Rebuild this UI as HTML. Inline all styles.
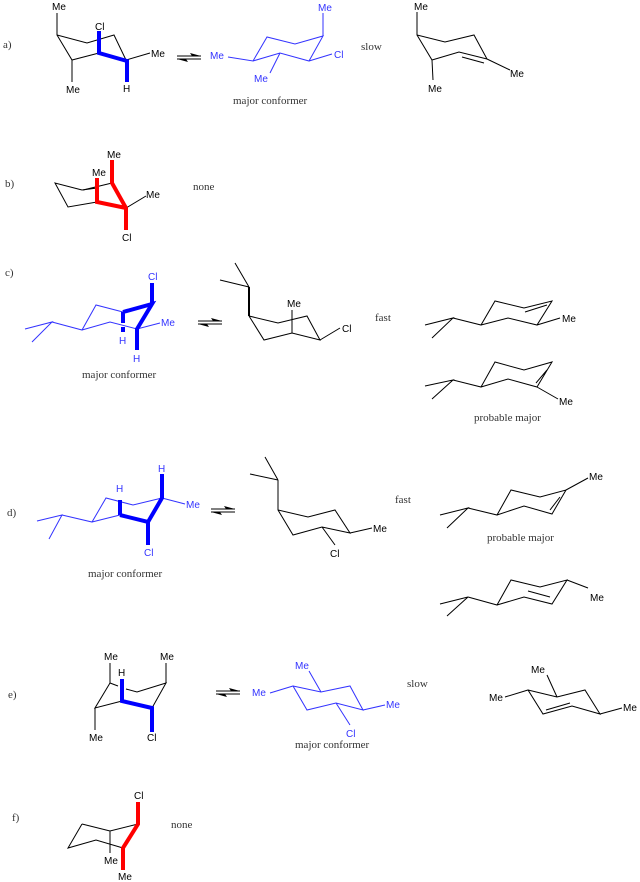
<!DOCTYPE html>
<html><head><meta charset="utf-8"><style>
html,body{margin:0;padding:0;background:#fff;}
svg{display:block;}
.s{font-family:"Liberation Sans",sans-serif;font-size:10px;}
.t{font-family:"Liberation Serif",serif;font-size:11px;fill:#333;}
.k{stroke:#000;stroke-width:1;fill:none;}
.b{stroke:#3333ff;stroke-width:1;fill:none;}
.B{stroke:#0000ff;stroke-width:4;fill:none;}
.R{stroke:#ff0000;stroke-width:4;fill:none;}
</style></head><body>
<svg width="640" height="882" viewBox="0 0 640 882" xmlns="http://www.w3.org/2000/svg">
<defs>
<g id="eq">
<line x1="0" y1="-1" x2="24" y2="-1" stroke="#000" stroke-width="1"/>
<polygon points="24,-1 13,-4 15,-1" fill="#000"/>
<line x1="0" y1="2" x2="24" y2="2" stroke="#000" stroke-width="1"/>
<polygon points="0,2 11,5 9,2" fill="#000"/>
</g>
</defs>

<!-- a -->
<text class="t" x="3" y="48">a)</text>
<path class="k" d="M57,13 L57,35 L87,43 L114,35 L126,60 M57,35 L72,60 L99,53 M126,60 L150,53 M72,60 L72,82"/>
<path class="B" d="M99,31 L99,53 L127,61 L127,82"/>
<text class="s" x="52" y="10">Me</text>
<text class="s" x="95" y="30">Cl</text>
<text class="s" x="151" y="57">Me</text>
<text class="s" x="66" y="93">Me</text>
<text class="s" x="123" y="92">H</text>
<use href="#eq" x="177" y="57"/>
<path class="b" d="M228,57 L253,61 L267,37 L295,44 L323,36 L309,61 L280,53 L253,61 M323,36 L323,13 M309,61 L332,54 M280,53 L270,73"/>
<g class="s" fill="#3333ff">
<text x="210" y="59">Me</text><text x="318" y="11">Me</text><text x="334" y="58">Cl</text><text x="254" y="82">Me</text>
</g>
<text class="t" x="233" y="104">major conformer</text>
<text class="t" x="361" y="50">slow</text>
<path class="k" d="M417,12 L417,35 L445,42 L474,35 L487,59 L459,52 L432,60 L417,35 M462,57 L484,63 M432,60 L433,80 M487,59 L510,70"/>
<text class="s" x="414" y="10">Me</text>
<text class="s" x="428" y="92">Me</text>
<text class="s" x="510" y="77">Me</text>

<!-- b -->
<text class="t" x="5" y="187">b)</text>
<path class="k" d="M97,178 L97,178 M82,190 L55,183 L68,207 L97,202 M82,190 L97,188 M112,183 L126,208 M126,208 L146,196"/>
<path class="k" d="M83,190 L112,183"/>
<path class="R" d="M112,160 L112,183 L126,208 L126,230 M97,178 L97,202 L126,208"/>
<text class="s" x="107" y="158">Me</text>
<text class="s" x="92" y="176">Me</text>
<text class="s" x="146" y="198">Me</text>
<text class="s" x="122" y="241">Cl</text>
<text class="t" x="193" y="190">none</text>

<!-- c -->
<text class="t" x="5" y="276">c)</text>
<path class="b" d="M25,329 L52,322 L32,342 M52,322 L82,330 L96,305 L123,312 M82,330 L110,322 L137,329 L160,323"/>
<path class="B" d="M123,312 L152,304 L137,329 L137,350 M152,304 L152,283 M123,312 L123,323 M123,327 L123,332"/>
<g class="s" fill="#3333ff">
<text x="148" y="280">Cl</text><text x="161" y="326">Me</text><text x="119" y="344">H</text><text x="133" y="362">H</text>
</g>
<text class="t" x="82" y="378">major conformer</text>
<use href="#eq" x="198" y="322"/>
<path class="k" d="M235,263 L249,287 M220,280 L249,287 M249,316 L278,323 L307,316 L320,340 L292,333 L264,340 L249,316 M292,310 L292,333 M320,340 L340,328"/>
<path d="M249,287 L249,316" stroke="#000" stroke-width="2"/>
<text class="s" x="287" y="307">Me</text>
<text class="s" x="342" y="332">Cl</text>
<text class="t" x="375" y="321">fast</text>
<path class="k" d="M425,325 L453,318 L432,338 M453,318 L481,325 L495,301 L524,308 L552,301 L537,325 L508,318 L481,325 M525,312 L547,305 M537,325 L560,318"/>
<text class="s" x="562" y="322">Me</text>
<path class="k" d="M425,386 L453,380 L432,399 M453,380 L481,387 L495,362 L524,370 L552,362 L537,387 L508,379 L481,387 M547,370 L536,383 M537,387 L558,399"/>
<text class="s" x="559" y="405">Me</text>
<text class="t" x="474" y="421">probable major</text>

<!-- d -->
<text class="t" x="7" y="516">d)</text>
<path class="b" d="M37,521 L62,515 L49,539 M62,515 L92,522 L106,498 L133,505 L162,498 M92,522 L120,515 M162,498 L185,504"/>
<path class="B" d="M120,515 L148,522 L162,498 L162,474 M148,522 L148,545 M120,515 L120,500"/>
<g class="s" fill="#3333ff">
<text x="158" y="472">H</text><text x="116" y="492">H</text><text x="186" y="508">Me</text><text x="144" y="556">Cl</text>
</g>
<text class="t" x="88" y="577">major conformer</text>
<use href="#eq" x="211" y="510"/>
<path class="k" d="M265,457 L278,480 M250,474 L278,480 M278,480 L278,510 L308,517 L335,510 L350,533 L322,527 L293,535 L278,510 M322,527 L335,545 M350,533 L372,528"/>
<text class="s" x="330" y="557">Cl</text>
<text class="s" x="373" y="532">Me</text>
<text class="t" x="395" y="503">fast</text>
<path class="k" d="M440,515 L468,508 L447,528 M468,508 L497,515 L511,490 L540,497 L566,490 L552,514 L524,506 L497,515 M560,497 L550,510 M566,490 L588,478"/>
<text class="s" x="589" y="480">Me</text>
<text class="t" x="487" y="541">probable major</text>
<path class="k" d="M440,604 L468,597 L447,616 M468,597 L497,605 L511,580 L540,587 L567,580 L552,604 L524,597 L497,605 M528,591 L550,597 M567,580 L588,588"/>
<text class="s" x="590" y="601">Me</text>

<!-- e -->
<text class="t" x="8" y="698">e)</text>
<path class="k" d="M110,663 L110,683 L95,708 L122,701 M110,683 L118,686 M126,689 L137,692 L166,683 L152,708 M166,663 L166,683 M95,708 L95,730"/>
<path class="B" d="M122,679 L122,701 L152,708 L152,732"/>
<text class="s" x="104" y="660">Me</text>
<text class="s" x="160" y="660">Me</text>
<text class="s" x="118" y="676">H</text>
<text class="s" x="89" y="741">Me</text>
<text class="s" x="147" y="741">Cl</text>
<use href="#eq" x="216" y="692"/>
<path class="b" d="M270,693 L293,686 L307,710 L336,703 L363,710 L350,686 L321,692 L293,686 M321,692 L309,671 M336,703 L350,725 M363,710 L385,705"/>
<g class="s" fill="#3333ff">
<text x="252" y="696">Me</text><text x="295" y="669">Me</text><text x="346" y="737">Cl</text><text x="386" y="708">Me</text>
</g>
<text class="t" x="295" y="748">major conformer</text>
<text class="t" x="407" y="687">slow</text>
<path class="k" d="M505,697 L528,690 L543,714 L572,706 L600,714 L585,690 L557,697 L528,690 M546,710 L570,703 M557,697 L547,675 M600,714 L622,708"/>
<text class="s" x="489" y="701">Me</text>
<text class="s" x="531" y="673">Me</text>
<text class="s" x="623" y="711">Me</text>

<!-- f -->
<text class="t" x="12" y="821">f)</text>
<path class="k" d="M82,824 L68,848 L96,840 L123,848 M82,824 L110,831 L138,824 M110,831 L110,853"/>
<path class="R" d="M138,802 L138,824 L123,848 L123,870"/>
<text class="s" x="134" y="799">Cl</text>
<text class="s" x="104" y="864">Me</text>
<text class="s" x="118" y="880">Me</text>
<text class="t" x="171" y="828">none</text>
</svg>
</body></html>
